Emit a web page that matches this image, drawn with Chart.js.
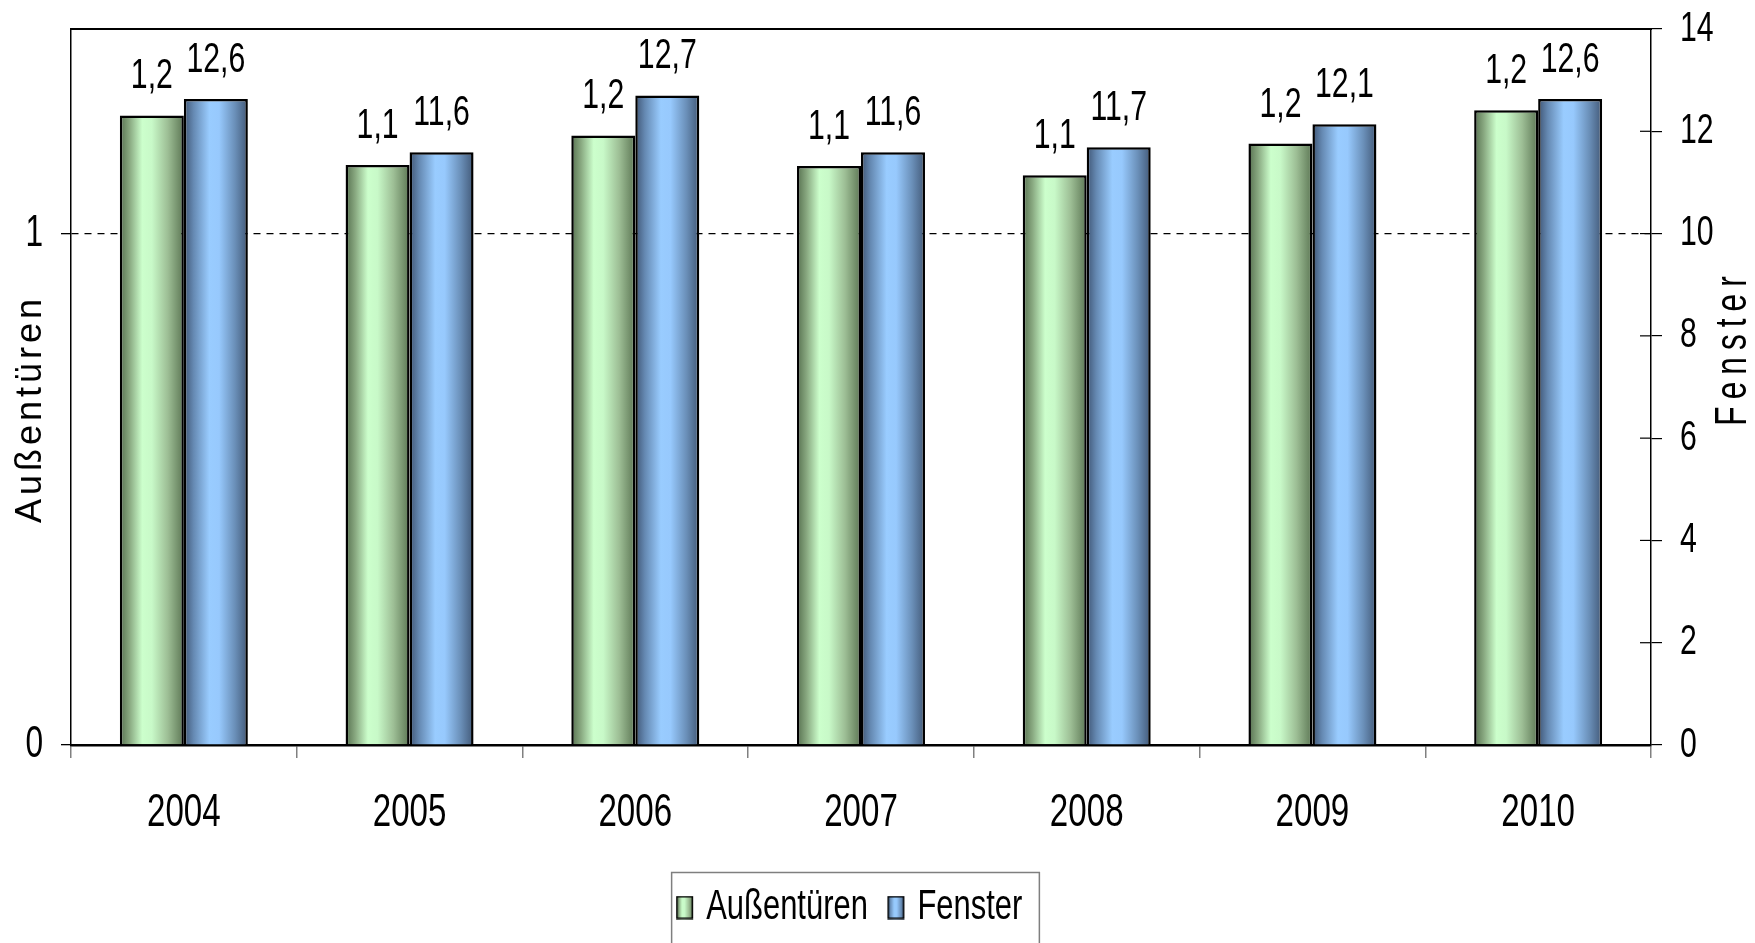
<!DOCTYPE html>
<html>
<head>
<meta charset="utf-8">
<script src="https://cdn.jsdelivr.net/npm/chart.js@4.4.1/dist/chart.umd.min.js"></script>
<style>
  html, body { margin: 0; padding: 0; background: #fff; }
  #wrap { width: 1755px; height: 943px; }
</style>
</head>
<body>
<div id="wrap"><canvas id="chart"></canvas></div>
<script>
// values
const years = ["2004", "2005", "2006", "2007", "2008", "2009", "2010"];
const aussentueren = [1.231, 1.134, 1.192, 1.132, 1.114, 1.176, 1.241];
const fenster = [12.63, 11.59, 12.70, 11.59, 11.69, 12.14, 12.63];
const leftTicks = [0, 1];
const rightTicks = [0, 2, 4, 6, 8, 10, 12, 14];

const FONT = "'Liberation Sans', Arial, sans-serif";
const SX = 0.72; // horizontal squeeze: the original uses a narrow face that is not installed
const greenStops = [[0, "#56704f"], [0.15, "#88a880"], [0.35, "#ccffcc"], [0.5, "#c8f9c8"], [0.75, "#9dbe95"], [1, "#5c7654"]];
const blueStops = [[0, "#3f5574"], [0.15, "#6589b2"], [0.4, "#99ccff"], [0.55, "#97c9fd"], [0.8, "#6a8fb8"], [1, "#425978"]];
const CAT_PCT = 0.567;

Chart.defaults.font.family = FONT;
Chart.defaults.color = "#000";

// narrow lettering for every text on the canvas
const canvas = document.getElementById("chart");
const cx = canvas.getContext("2d");
const rawFill = cx.fillText.bind(cx);
const rawMeasure = cx.measureText.bind(cx);
cx.fillText = (t, x, y) => {
  cx.save();
  cx.translate(x, y);
  cx.scale(SX, 1);
  rawFill(t, 0, 0);
  cx.restore();
};
cx.measureText = t => {
  const m = rawMeasure(t);
  return {
    width: m.width * SX,
    actualBoundingBoxLeft: m.actualBoundingBoxLeft * SX,
    actualBoundingBoxRight: m.actualBoundingBoxRight * SX,
    actualBoundingBoxAscent: m.actualBoundingBoxAscent,
    actualBoundingBoxDescent: m.actualBoundingBoxDescent,
  };
};

function barFill(c, stops) {
  const chart = c.chart;
  const xs = chart.scales.x;
  if (!chart.chartArea || !xs || c.type !== "data") return stops[2][1];
  const center = xs.getPixelForValue(c.dataIndex);
  const group = (xs.right - xs.left) / years.length * CAT_PCT;
  const bw = group / 2;
  const left = center - group / 2 + c.datasetIndex * bw;
  const g = chart.ctx.createLinearGradient(left, 0, left + bw, 0);
  stops.forEach(s => g.addColorStop(s[0], s[1]));
  return g;
}

function swatch(stops) {
  const cv = document.createElement("canvas");
  cv.width = 35; cv.height = 24;
  const c = cv.getContext("2d");
  const g = c.createLinearGradient(10, 0, 27, 0);
  stops.forEach(s => g.addColorStop(s[0], s[1]));
  c.fillStyle = g;
  c.fillRect(10, 0.5, 17, 23);
  c.strokeStyle = "#000";
  c.lineWidth = 1.5;
  c.strokeRect(10.75, 1.25, 15.5, 21.5);
  return cv;
}
const swatches = [swatch(greenStops), swatch(blueStops)];

const fmt = v => v.toFixed(1).replace(".", ",");

// vertical text with extra space between the letters
function spacedTitle(ctx, text, x, y, spacing, narrow) {
  const fill = narrow ? ctx.fillText : rawFill;
  const measure = narrow ? ctx.measureText : rawMeasure;
  const chars = Array.from(text);
  const widths = chars.map(ch => measure(ch).width);
  const total = widths.reduce((s, w) => s + w, 0) + spacing * (chars.length - 1);
  ctx.save();
  ctx.translate(x, y);
  ctx.rotate(-Math.PI / 2);
  ctx.textAlign = "left";
  let pos = -total / 2;
  chars.forEach((ch, i) => {
    fill(ch, pos, 0);
    pos += widths[i] + spacing;
  });
  ctx.restore();
}

// keep tick labels from pushing the plot frame inward
const noLabelPadding = s => {
  s.paddingTop = 0;
  s.paddingBottom = 0;
};

const extras = {
  id: "extras",
  afterLayout(chart) {
    // legend sits a bit left of the page centre
    chart.legend.left -= 25;
    chart.legend.right -= 25;
  },
  afterDatasetsDraw(chart) {
    const ctx = chart.ctx;
    ctx.save();
    ctx.font = "42px " + FONT;
    ctx.fillStyle = "#000";
    ctx.textAlign = "center";
    ctx.textBaseline = "alphabetic";
    chart.data.datasets.forEach((ds, di) => {
      chart.getDatasetMeta(di).data.forEach((el, i) => {
        ctx.fillText(fmt(ds.data[i]), el.x, el.y - 27);
      });
    });
    ctx.restore();
  },
  afterDraw(chart) {
    const ctx = chart.ctx;
    const a = chart.chartArea;
    ctx.save();
    // top frame line
    ctx.strokeStyle = "#000";
    ctx.lineWidth = 2;
    ctx.beginPath();
    ctx.moveTo(a.left, a.top);
    ctx.lineTo(a.right + 1, a.top);
    ctx.stroke();
    // inner tick marks of the right axis
    ctx.lineWidth = 1.2;
    const r = chart.scales.y1;
    r.ticks.forEach(t => {
      const y = r.getPixelForValue(t.value);
      ctx.beginPath();
      ctx.moveTo(a.right - 11, y);
      ctx.lineTo(a.right, y);
      ctx.stroke();
    });
    // axis titles
    ctx.fillStyle = "#000";
    ctx.textBaseline = "middle";
    ctx.font = "36px " + FONT;
    spacedTitle(ctx, "Außentüren", a.left - 40, (a.top + a.bottom) / 2 + 24, 4, false);
    ctx.font = "44px " + FONT;
    spacedTitle(ctx, "Fenster", a.right + 83, (a.top + a.bottom) / 2 - 36, 7, true);
    // legend frame
    const lg = chart.legend;
    if (lg && lg.legendHitBoxes && lg.legendHitBoxes.length) {
      const hb = lg.legendHitBoxes;
      const x0 = hb[0].left - 11;
      const x1 = hb[hb.length - 1].left + hb[hb.length - 1].width + 17;
      const y0 = hb[0].top + hb[0].height / 2 - 35;
      ctx.strokeStyle = "#7f7f7f";
      ctx.lineWidth = 1.5;
      ctx.beginPath();
      ctx.moveTo(x0, chart.height + 5);
      ctx.lineTo(x0, y0);
      ctx.lineTo(x1, y0);
      ctx.lineTo(x1, chart.height + 5);
      ctx.stroke();
    }
    ctx.restore();
  }
};

new Chart(cx, {
  type: "bar",
  data: {
    labels: years,
    datasets: [
      {
        label: "Außentüren",
        data: aussentueren,
        yAxisID: "y",
        backgroundColor: c => barFill(c, greenStops),
        borderColor: "#000",
        borderWidth: 2.5,
        categoryPercentage: CAT_PCT,
        barPercentage: 1,
      },
      {
        label: "Fenster",
        data: fenster,
        yAxisID: "y1",
        backgroundColor: c => barFill(c, blueStops),
        borderColor: "#000",
        borderWidth: 2.5,
        categoryPercentage: CAT_PCT,
        barPercentage: 1,
      },
    ],
  },
  options: {
    responsive: true,
    maintainAspectRatio: false,
    animation: false,
    events: [],
    layout: { padding: { left: 0, right: 0, top: 29, bottom: 4 } },
    plugins: {
      tooltip: { enabled: false },
      legend: {
        position: "bottom",
        labels: {
          usePointStyle: true,
          pointStyleWidth: 2,
          padding: 26,
          font: { size: 43 },
          color: "#000",
          generateLabels: chart => chart.data.datasets.map((ds, i) => ({
            text: ds.label,
            pointStyle: swatches[i],
            fillStyle: "transparent",
            strokeStyle: "transparent",
            lineWidth: 0,
            datasetIndex: i,
            hidden: false,
          })),
        },
      },
    },
    scales: {
      x: {
        afterFit: s => { s.height = 115; },
        grid: {
          offset: true,
          drawOnChartArea: false,
          tickLength: 13,
          color: "#808080",
          lineWidth: 1.5,
        },
        border: { color: "#000", width: 2.5 },
        ticks: { padding: 28, font: { size: 46 }, color: "#000" },
      },
      y: {
        position: "left",
        min: 0,
        max: 1.4,
        afterFit: s => { s.width = 71; noLabelPadding(s); },
        afterBuildTicks: s => { s.ticks = leftTicks.map(v => ({ value: v })); },
        grid: {
          color: c => (c.tick && c.tick.value === 1 ? "#000" : "transparent"),
          tickColor: "#000",
          tickBorderDash: [],
          lineWidth: 1.3,
          tickLength: 10,
        },
        border: { color: "#000", width: 1.5, dash: [7, 6] },
        ticks: { padding: 18, font: { size: 44 }, color: "#000", callback: v => String(v) },
      },
      y1: {
        position: "right",
        min: 0,
        max: 14,
        afterFit: s => { s.width = 104; noLabelPadding(s); },
        afterBuildTicks: s => { s.ticks = rightTicks.map(v => ({ value: v })); },
        grid: { drawOnChartArea: false, tickColor: "#000", tickLength: 11, lineWidth: 1.2 },
        border: { color: "#000", width: 1.5 },
        ticks: { padding: 18, font: { size: 42 }, color: "#000", callback: v => String(v) },
      },
    },
  },
  plugins: [extras],
});
</script>
</body>
</html>
